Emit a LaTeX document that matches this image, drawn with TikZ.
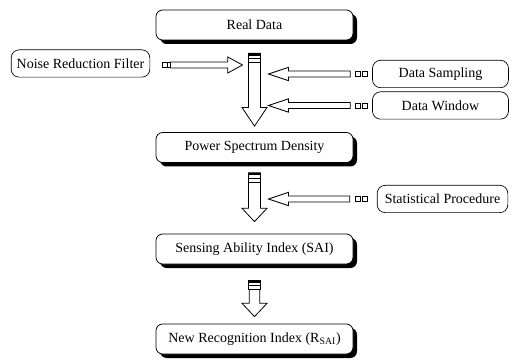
\documentclass[tikz,border=0pt]{standalone}
\usepackage{fontspec}
\setmainfont{Liberation Serif}
\usetikzlibrary{shadows,calc}
\tikzset{
  mainbox/.style={draw, rounded corners=5pt, fill=white, line width=.6pt,
    minimum width=147.75pt, minimum height=22.5pt, font=\fontsize{10.5}{12}\selectfont,
    drop shadow={shadow xshift=3pt, shadow yshift=-3pt, fill=black, opacity=1}},
  sidebox/.style={draw, rounded corners=6pt, line width=.5pt,
    minimum width=102pt, minimum height=20.5pt, font=\fontsize{10.5}{12}\selectfont},
  flowline/.style={draw, fill=white, line width=.6pt, line join=miter},
  tailsq/.style={draw, line width=.5pt, fill=white}
}
% block arrow: #1 tail, #2 tip, #3 half shaft, #4 half head, #5 head length
\newcommand{\fatarrow}[5]{%
 \path[flowline] let \p1=(#1), \p2=(#2), \n1={atan2(\y2-\y1,\x2-\x1)} in
  ($(\p1)+(\n1+90:#3)$) -- ($(\p2)+(\n1+180:#5)+(\n1+90:#3)$)
  -- ($(\p2)+(\n1+180:#5)+(\n1+90:#4)$) -- (\p2)
  -- ($(\p2)+(\n1+180:#5)+(\n1-90:#4)$) -- ($(\p2)+(\n1+180:#5)+(\n1-90:#3)$)
  -- ($(\p1)+(\n1-90:#3)$) -- cycle;}
\begin{document}
\begin{tikzpicture}[x=.75pt,y=-.75pt]
 \useasboundingbox (0,0) rectangle (517,363);
 % main chain
 \node[mainbox] (real) at (254.5,25) {Real Data};
 \node[mainbox] (psd) at (254.5,147.5) {Power Spectrum Density};
 \node[mainbox] (sai) at (254.5,249) {Sensing Ability Index (SAI)};
 \node[mainbox] (nri) at (254.5,339) {New Recognition Index (R$_{\mathrm{SAI}}$)};
 % side inputs
 \node[sidebox, minimum width=104pt] (noise) at (80.5,63.5) {Noise Reduction Filter};
 \node[sidebox] (samp) at (440.5,74) {Data Sampling};
 \node[sidebox] (win) at (440.5,105.5) {Data Window};
 \node[sidebox, minimum width=98pt] (stat) at (442.5,199) {Statistical Procedure};
 % tails and tips of the down arrows
 \coordinate (t1) at ($(real.south)+(0,13)$);
 \coordinate (e1) at ($(psd.north)+(0,-6)$);
 \coordinate (t2) at ($(psd.south)+(0,10)$);
 \coordinate (e2) at ($(sai.north)+(0,-12)$);
 \coordinate (t3) at ($(sai.south)+(0,16)$);
 \coordinate (e3) at ($(nri.north)+(0,-7)$);
 % down arrows
 \fatarrow{t1}{e1}{4.5pt}{9.4pt}{14pt}
 \fatarrow{t2}{e2}{4.5pt}{9.4pt}{10pt}
 \fatarrow{t3}{e3}{4pt}{9.4pt}{10pt}
 \foreach \t in {t1,t2,t3}{
   \draw[tailsq] ($(\t)+(-6,0)$) rectangle ($(\t)+(6,9)$);
   \fill ($(\t)+(-6,0)$) rectangle ($(\t)+(6,2.5)$);
   \draw[line width=.4pt] ($(\t)+(-6,5)$) -- ($(\t)+(6,5)$);
 }
 % side arrows
 \coordinate (n0) at ($(noise.east)+(20,1.5)$);
 \coordinate (n1) at ($(t1 |- n0)+(-12,0)$);
 \coordinate (s0) at ($(samp.west)+(-22,0)$);
 \coordinate (s1) at ($(t1 |- s0)+(14,0)$);
 \coordinate (w0) at ($(win.west)+(-22,0)$);
 \coordinate (w1) at ($(t1 |- w0)+(14,0)$);
 \coordinate (p0) at ($(stat.west)+(-27,0)$);
 \coordinate (p1) at ($(t2 |- p0)+(14,0)$);
 \fatarrow{n0}{n1}{2.25pt}{6pt}{11pt}
 \fatarrow{s0}{s1}{2.25pt}{5pt}{15pt}
 \fatarrow{w0}{w1}{2.25pt}{5pt}{15pt}
 \fatarrow{p0}{p1}{2.25pt}{5pt}{15pt}
 % small squares at the tails
 \foreach \a in {s0,w0,p0}{
   \draw[tailsq] ($(\a)+(5,-2.5)$) rectangle ++(5,5);
   \draw[tailsq] ($(\a)+(12,-2.5)$) rectangle ++(5,5);
 }
 \draw[tailsq] ($(n0)+(-8,-2.5)$) rectangle ++(5,5);
 \draw[tailsq] ($(n0)+(-3,-2.5)$) rectangle ++(3,5);
\end{tikzpicture}
\end{document}
